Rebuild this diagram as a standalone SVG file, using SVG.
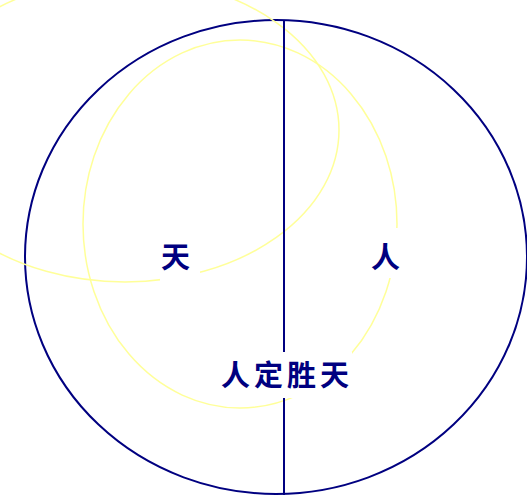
<svg xmlns="http://www.w3.org/2000/svg" width="527" height="495" viewBox="0 0 527 495">
<style>
.y{fill:none;stroke:#ffff99;stroke-width:1.5}
.n{fill:none;stroke:#000080;stroke-width:2}
.bg{fill:#ffffff}
.t{font-family:"Noto Sans CJK SC","Noto Sans CJK JP",sans-serif;font-weight:bold;font-size:29px;fill:#000080}
</style>
<rect width="527" height="495" fill="#ffffff"/>
<g id="connectors">
<ellipse class="n" cx="276" cy="257" rx="251" ry="237"/>
<ellipse class="y" cx="240" cy="224" rx="157" ry="184"/>
<ellipse class="y" cx="125" cy="130" rx="214" ry="152"/>
<line class="n" x1="284" y1="20" x2="284" y2="495"/>
</g>
<g id="node-tian">
<rect class="bg" x="160" y="232" width="40" height="50"/>
<text class="t" x="161" y="268">天</text>
</g>
<g id="node-ren">
<rect class="bg" x="368" y="228" width="32" height="50"/>
<text class="t" x="371" y="268">人</text>
</g>
<g id="node-rendingshengtian">
<rect class="bg" x="218" y="352" width="134" height="46"/>
<text class="t" x="221" y="386" textLength="128">人定胜天</text>
</g>
</svg>
